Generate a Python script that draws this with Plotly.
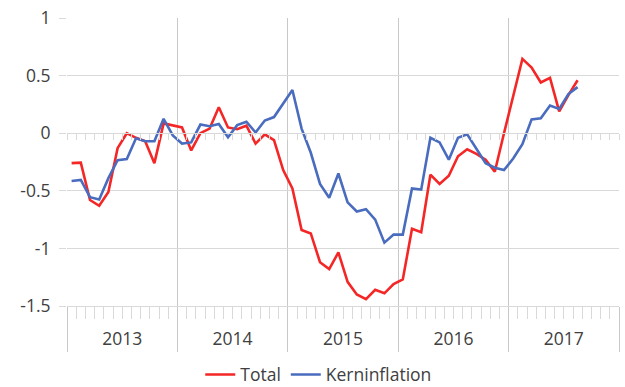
import plotly.graph_objects as go

# Monthly inflation rates, January 2013 onwards
YEARS = ["2013", "2014", "2015", "2016", "2017"]

total = [
    -0.26, -0.255, -0.58, -0.63, -0.51, -0.13, 0.0, -0.04, -0.07, -0.26, 0.085, 0.07,
    0.05, -0.15, 0.0, 0.04, 0.225, 0.05, 0.035, 0.065, -0.09, -0.01, -0.06, -0.32,
    -0.48, -0.84, -0.87, -1.12, -1.18, -1.035, -1.29, -1.40, -1.44, -1.36, -1.39, -1.31,
    -1.27, -0.83, -0.86, -0.36, -0.44, -0.37, -0.20, -0.14, -0.18, -0.23, -0.335, 0.0,
    0.33, 0.645, 0.57, 0.44, 0.48, 0.19, 0.33, 0.46,
]

kerninflation = [
    -0.415, -0.405, -0.555, -0.575, -0.39, -0.235, -0.225, -0.044, -0.07, -0.07, 0.125, -0.02,
    -0.09, -0.08, 0.075, 0.06, 0.08, -0.035, 0.07, 0.10, 0.006, 0.11, 0.14, 0.26,
    0.375, 0.04, -0.17, -0.44, -0.56, -0.35, -0.60, -0.68, -0.66, -0.75, -0.95, -0.88,
    -0.88, -0.48, -0.49, -0.04, -0.08, -0.23, -0.04, -0.01, -0.14, -0.26, -0.30, -0.32,
    -0.22, -0.095, 0.12, 0.13, 0.24, 0.21, 0.34, 0.40,
]

Y_TICKS = [-1.5, -1, -0.5, 0, 0.5, 1]
Y_TICK_TEXT = ["-1.5", "-1", "-0.5", "0", "0.5", "1"]

n_months = 12 * len(YEARS)
month_idx = list(range(len(total)))
year_bounds = [12 * k - 0.5 for k in range(len(YEARS) + 1)]
year_centers = [12 * k + 5.5 for k in range(len(YEARS))]
x_range = [-0.5, n_months - 0.5]

FONT = "Open Sans"
TXT = "#404040"
GRID = "#D9D9D9"
DIV = "#C8C8C8"

fig = go.Figure()
fig.add_trace(go.Scatter(
    x=month_idx, y=total, name="Total", mode="lines",
    line=dict(color="#F42626", width=2.6),
))
fig.add_trace(go.Scatter(
    x=month_idx, y=kerninflation, name="Kerninflation", mode="lines",
    line=dict(color="#4A6CBF", width=2.6),
))

fig.update_layout(
    width=625, height=387,
    margin=dict(l=67, r=6, t=18, b=81, autoexpand=False),
    paper_bgcolor="white", plot_bgcolor="white",
    font=dict(family=FONT, size=17.5, color=TXT),
    showlegend=True,
    legend=dict(
        orientation="h", xref="container", yref="container",
        x=0.51, xanchor="center", y=0.032, yanchor="middle",
        font=dict(family=FONT, size=17.5, color=TXT),
        itemwidth=30, tracegroupgap=0,
        bgcolor="rgba(0,0,0,0)",
    ),
    xaxis=dict(
        range=x_range, tickmode="array", tickvals=year_bounds,
        showticklabels=False, ticks="outside", ticklen=45,
        tickcolor=DIV, tickwidth=1.2,
        showgrid=True, gridcolor=DIV, gridwidth=1.2,
        showline=True, linecolor=GRID, linewidth=1.4,
        zeroline=False,
        minor=dict(tick0=-0.5, dtick=1, ticks="outside", ticklen=12,
                   tickcolor=GRID, tickwidth=1.2, showgrid=False),
    ),
    xaxis2=dict(
        range=x_range, overlaying="x", anchor="y", side="bottom",
        tickmode="array", tickvals=year_centers, ticktext=YEARS,
        ticks="", showgrid=False, showline=False, zeroline=False,
        ticklabelstandoff=20,
        tickfont=dict(family=FONT, size=17.5, color=TXT),
    ),
    xaxis3=dict(
        range=x_range, overlaying="x", anchor="free", position=0.6,
        tickmode="linear", tick0=-0.5, dtick=1,
        ticks="outside", ticklen=6, tickcolor=GRID, tickwidth=1.2,
        showticklabels=False, showgrid=False, zeroline=False,
        showline=True, linecolor=GRID, linewidth=1.4,
    ),
    yaxis=dict(
        range=[-1.5, 1], tickmode="array", tickvals=Y_TICKS, ticktext=Y_TICK_TEXT,
        showgrid=True, gridcolor=GRID, gridwidth=1.4,
        zeroline=False, showline=False,
        ticks="outside", ticklen=7, tickcolor=GRID, tickwidth=1.4,
        ticklabelstandoff=5,
        tickfont=dict(family=FONT, size=17.5, color=TXT),
    ),
)

# helper traces bound to the extra x-axes so they are rendered
fig.add_trace(go.Scatter(x=[None], y=[None], xaxis="x2", showlegend=False, hoverinfo="skip"))
fig.add_trace(go.Scatter(x=[None], y=[None], xaxis="x3", showlegend=False, hoverinfo="skip"))

fig.write_html("out.html")
